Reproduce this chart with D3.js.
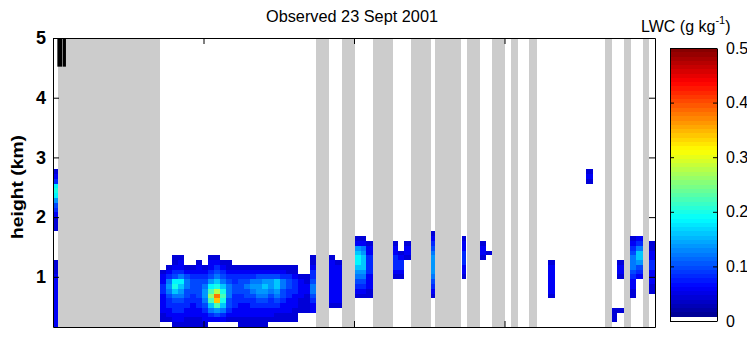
<!DOCTYPE html>
<html>
<head>
<meta charset="utf-8">
<script src="https://cdn.jsdelivr.net/npm/d3@7"></script>
<style>
body { margin: 0; background: #fff; }
svg { display: block; font-family: "Liberation Sans", Arial, sans-serif; }
</style>
</head>
<body>
<svg width="747" height="337"></svg>
<script>
let xTicks = [1, 2, 3];
let yTicks = [1, 2, 3, 4, 5];
let cTicks = [0, 0.1, 0.2, 0.3, 0.4, 0.5];

// grey = no data, [start, end] in time units
let gaps = [[0.033, 0.711], [1.748, 1.834], [1.920, 2.007], [2.126, 2.259], [2.379, 2.512],
            [2.538, 2.711], [2.751, 2.837], [2.917, 3.003], [3.043, 3.090], [3.163, 3.216],
            [3.668, 3.714], [3.794, 3.841], [3.920, 3.960]];

// black marks in the top left corner
let marks = [[0.029, 0.060], [0.064, 0.086]];
let markZ = [4.52, 5];

// levels are base-36 chars, value = level * 0.02 g/kg, "." = empty
let zStart = 0.16, dz = 0.08;

// main cloud, first string is row 14, last is row 0
let cloudT0 = 0.708, cloudDt = 0.04;
let cloudRows = [
  "..22....22...............2",
  "..23..2.3322.............2",
  ".2332232343222222222222..3",
  "23443333454333333333322..4",
  "34565444565444445555443224",
  "36996555786545566778654325",
  "47a865569a8655677878654336",
  "46875557bea655567767544336",
  "35665457djb644556656543325",
  "34554446bha544445545433224",
  "344443458b8543344444333223",
  "33443334676433333333332223",
  "23333333454333333332222...",
  "22332223333222222222222...",
  "..222222.....22222........"
];

// other columns: [t start, t end, first row, levels bottom to top]
let profiles = [
  [0.000, 0.035, 20, "22234579a9432"],
  [0.000, 0.035, 0, "33333333333222"],
  [1.836, 1.874, 4, "23333333332"],
  [1.874, 1.918, 4, "2333333332"],
  [2.007, 2.047, 6, "2345678998732"],
  [2.047, 2.080, 6, "2345678887632"],
  [2.080, 2.124, 6, "223334444332"],
  [2.257, 2.294, 10, "23444332"],
  [2.294, 2.332, 10, "234432"],
  [2.332, 2.377, 14, "2332"],
  [2.512, 2.538, 6, "23456777765432"],
  [2.715, 2.744, 10, "233444332"],
  [2.837, 2.877, 14, "2332"],
  [2.877, 2.915, 15, "2"],
  [3.291, 3.336, 6, "23333332"],
  [3.542, 3.586, 30, "232"],
  [3.712, 3.750, 1, "222"],
  [3.750, 3.794, 3, "2"],
  [3.750, 3.794, 10, "2332"],
  [3.837, 3.877, 6, "2233456665432"],
  [3.877, 3.917, 10, "345788643"],
  [3.960, 4.000, 7, "22333443322"]
];

let plot = {left: 53, right: 655, top: 38, bottom: 327};
let bar = {left: 670, right: 717, top: 48, bottom: 321};
let nColors = 64;

let svg = d3.select("svg");

let xScale = d3.scaleLinear().domain([0, 4]).range([plot.left, plot.right]);
let yScale = d3.scaleLinear().domain([0.16, 5]).range([plot.bottom, plot.top]);
let cScale = d3.scaleLinear().domain([0, 0.5]).range([bar.bottom, bar.top]);

// matlab style jet, lowest bin white
let jet = (x) => {
  let f = (d) => Math.max(0, Math.min(1, 1.5 - Math.abs(4 * x - d)));
  return d3.rgb(255 * f(3), 255 * f(2), 255 * f(1)).formatHex();
};
let colorIndex = (v) => Math.max(0, Math.min(nColors - 1, Math.floor(v / 0.5 * nColors)));
let colorOf = (i) => i === 0 ? "#ffffff" : jet((i + 0.5) / nColors);

let cells = [];
cloudRows.forEach((row, k) => {
  let r = cloudRows.length - 1 - k;
  row.split("").forEach((ch, c) => {
    if (ch === ".") return;
    cells.push({t0: cloudT0 + c * cloudDt, t1: cloudT0 + (c + 1) * cloudDt, r: r, v: parseInt(ch, 36) * 0.02});
  });
});
profiles.forEach((p) => {
  p[3].split("").forEach((ch, k) => {
    if (ch === ".") return;
    cells.push({t0: p[0], t1: p[1], r: p[2] + k, v: parseInt(ch, 36) * 0.02});
  });
});

// grey gaps
svg.append("g")
  .selectAll("rect")
  .data(gaps)
  .enter()
  .append("rect")
  .attr("x", (d) => xScale(d[0]))
  .attr("width", (d) => xScale(d[1]) - xScale(d[0]))
  .attr("y", plot.top)
  .attr("height", plot.bottom - plot.top)
  .attr("fill", "#cccccc")
  .attr("shape-rendering", "crispEdges");

// LWC cells
svg.append("g")
  .selectAll("rect")
  .data(cells)
  .enter()
  .append("rect")
  .attr("x", (d) => xScale(d.t0))
  .attr("width", (d) => xScale(d.t1) - xScale(d.t0))
  .attr("y", (d) => yScale(zStart + (d.r + 1) * dz))
  .attr("height", (d) => yScale(zStart + d.r * dz) - yScale(zStart + (d.r + 1) * dz))
  .attr("fill", (d) => colorOf(colorIndex(d.v)))
  .attr("shape-rendering", "crispEdges");

svg.append("g")
  .selectAll("rect")
  .data(marks)
  .enter()
  .append("rect")
  .attr("x", (d) => xScale(d[0]))
  .attr("width", (d) => xScale(d[1]) - xScale(d[0]))
  .attr("y", yScale(markZ[1]))
  .attr("height", yScale(markZ[0]) - yScale(markZ[1]))
  .attr("fill", "#000");

// axes, ticks pointing in
let fixAxis = (g) => {
  g.attr("font-family", null).attr("font-size", null);
  g.selectAll("path, line").attr("stroke", "#000");
};

svg.append("g")
  .attr("transform", "translate(" + plot.left + ",0)")
  .call(d3.axisLeft(yScale).tickValues(yTicks).tickSizeInner(-6).tickSizeOuter(0).tickPadding(7).tickFormat(d3.format("d")))
  .call(fixAxis)
  .selectAll("text")
  .attr("font-size", 18)
  .attr("font-weight", "bold")
  .attr("fill", "#000");

svg.append("g")
  .attr("transform", "translate(" + plot.right + ",0)")
  .call(d3.axisRight(yScale).tickValues(yTicks).tickSizeInner(-6).tickSizeOuter(0).tickFormat(""))
  .call(fixAxis);

svg.append("g")
  .attr("transform", "translate(0," + plot.bottom + ")")
  .call(d3.axisBottom(xScale).tickValues(xTicks).tickSizeInner(-6).tickSizeOuter(0).tickFormat(""))
  .call(fixAxis);

svg.append("g")
  .attr("transform", "translate(0," + plot.top + ")")
  .call(d3.axisTop(xScale).tickValues(xTicks).tickSizeInner(-6).tickSizeOuter(0).tickFormat(""))
  .call(fixAxis);

// colour bar
svg.append("g")
  .selectAll("rect")
  .data(d3.range(nColors))
  .enter()
  .append("rect")
  .attr("x", bar.left)
  .attr("width", bar.right - bar.left)
  .attr("y", (i) => cScale((i + 1) * 0.5 / nColors))
  .attr("height", (i) => cScale(i * 0.5 / nColors) - cScale((i + 1) * 0.5 / nColors))
  .attr("fill", (i) => colorOf(i))
  .attr("shape-rendering", "crispEdges");

svg.append("g")
  .attr("transform", "translate(" + bar.right + ",0)")
  .call(d3.axisRight(cScale).tickValues(cTicks).tickSizeInner(-4).tickSizeOuter(0).tickPadding(9)
    .tickFormat((d) => d === 0 ? "0" : d3.format(".1f")(d)))
  .call(fixAxis)
  .selectAll("text")
  .attr("font-size", 16)
  .attr("fill", "#000");

svg.append("g")
  .attr("transform", "translate(" + bar.left + ",0)")
  .call(d3.axisLeft(cScale).tickValues(cTicks).tickSizeInner(-4).tickSizeOuter(0).tickFormat(""))
  .call(fixAxis);

svg.append("line")
  .attr("x1", bar.left).attr("x2", bar.right)
  .attr("y1", bar.top + 0.5).attr("y2", bar.top + 0.5)
  .attr("stroke", "#000");
svg.append("line")
  .attr("x1", bar.left).attr("x2", bar.right)
  .attr("y1", bar.bottom + 0.5).attr("y2", bar.bottom + 0.5)
  .attr("stroke", "#000");

// text
svg.append("text")
  .attr("x", 352)
  .attr("y", 22)
  .attr("text-anchor", "middle")
  .attr("font-size", 16)
  .attr("textLength", 172)
  .attr("lengthAdjust", "spacingAndGlyphs")
  .text("Observed 23 Sept 2001");

svg.append("text")
  .attr("transform", "translate(23,187)rotate(-90)")
  .attr("text-anchor", "middle")
  .attr("font-size", 16)
  .attr("font-weight", "bold")
  .attr("textLength", 104)
  .attr("lengthAdjust", "spacingAndGlyphs")
  .text("height (km)");

let lwc = svg.append("text")
  .attr("x", 641)
  .attr("y", 32)
  .attr("font-size", 16);
lwc.append("tspan").text("LWC (g kg");
lwc.append("tspan").attr("dy", -8).attr("font-size", 11).text("-1");
lwc.append("tspan").attr("dy", 8).text(")");
</script>
</body>
</html>
